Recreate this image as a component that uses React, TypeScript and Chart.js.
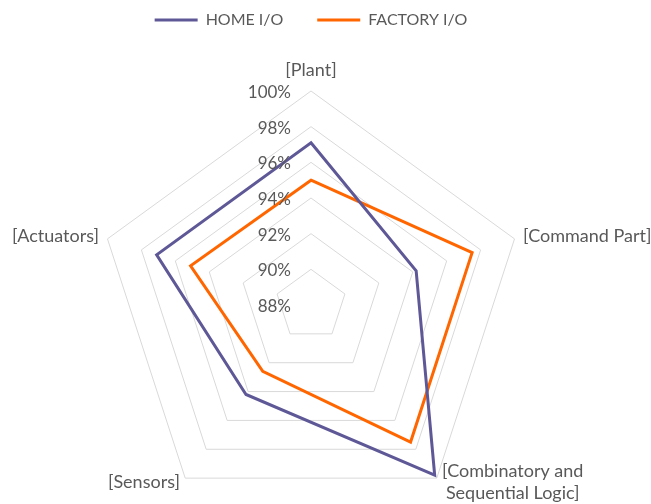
import React, { useEffect, useRef } from "react";
import { Chart, registerables } from "chart.js";

Chart.register(...registerables);

const categories: (string | string[])[] = [
  "[Plant]",
  "[Command Part]",
  ["[Combinatory and", "Sequential Logic]"],
  "[Sensors]",
  "[Actuators]",
];
const homeValues = [97.1, 94.2, 99.8, 94.2, 97.1];
const factoryValues = [95.0, 97.5, 97.5, 92.6, 95.1];
const tickValues = [88, 90, 92, 94, 96, 98, 100];

const HOME_COLOR = "#5E5897";
const FACTORY_COLOR = "#FF6600";
const TEXT_COLOR = "#595959";
const GRID_COLOR = "#D9D9D9";
const FONT = "Lato";

const labelPlugin = {
  id: "customRadarLabels",
  afterDraw(chart: any) {
    const scale = chart.scales.r;
    const ctx = chart.ctx as CanvasRenderingContext2D;
    ctx.save();
    ctx.fillStyle = TEXT_COLOR;
    // tick labels, right-aligned left of the vertical axis
    ctx.font = `17px ${FONT}`;
    ctx.textAlign = "right";
    ctx.textBaseline = "middle";
    tickValues.forEach((v) => {
      const d = scale.getDistanceFromCenterForValue(v);
      ctx.fillText(`${v}%`, scale.xCenter - 20, scale.yCenter - d + 1.5);
    });
    // point labels
    ctx.font = `18px ${FONT}`;
    categories.forEach((lab, i) => {
      const p = scale.getPointPosition(i, scale.drawingArea + 9);
      const lines = Array.isArray(lab) ? lab : [lab];
      const dx = p.x - scale.xCenter;
      const dy = p.y - scale.yCenter;
      const lineH = 22;
      const widths = lines.map((l) => ctx.measureText(l).width);
      const maxW = Math.max(...widths);
      let cx: number;
      if (Math.abs(dx) < 1) cx = p.x;
      else if (dx > 0) cx = p.x + maxW / 2;
      else cx = p.x - maxW / 2;
      let cy: number;
      if (Math.abs(dx) < 1 && dy < 0) cy = p.y - 12;
      else if (dy > 0) cy = p.y - 3;
      else cy = p.y;
      ctx.textAlign = "center";
      ctx.textBaseline = "middle";
      lines.forEach((l, k) => {
        const y = cy + (k - (lines.length - 1) / 2) * lineH;
        ctx.fillText(l, cx, y);
      });
    });
    ctx.restore();
  },
};

export default function App() {
  const canvasRef = useRef<HTMLCanvasElement | null>(null);

  useEffect(() => {
    if (!canvasRef.current) return;
    const chart = new Chart(canvasRef.current, {
      type: "radar",
      data: {
        labels: categories,
        datasets: [
          {
            label: "HOME I/O",
            data: homeValues,
            borderColor: HOME_COLOR,
            backgroundColor: "transparent",
            borderWidth: 3,
            pointRadius: 0,
            pointHoverRadius: 0,
            fill: false,
            tension: 0,
          },
          {
            label: "FACTORY I/O",
            data: factoryValues,
            borderColor: FACTORY_COLOR,
            backgroundColor: "transparent",
            borderWidth: 3,
            pointRadius: 0,
            pointHoverRadius: 0,
            fill: false,
            tension: 0,
          },
        ],
      },
      options: {
        animation: false,
        responsive: true,
        maintainAspectRatio: false,
        layout: {
          padding: { top: -22, left: 97, right: 126, bottom: 0 },
        },
        plugins: {
          legend: {
            position: "top",
            labels: {
              usePointStyle: true,
              pointStyle: "line",
              pointStyleWidth: 43,
              padding: 34,
              color: TEXT_COLOR,
              font: { family: FONT, size: 16 },
            },
          },
          tooltip: { enabled: false },
        },
        scales: {
          r: {
            min: 88,
            max: 100,
            ticks: { display: false, stepSize: 2 },
            pointLabels: { display: false },
            angleLines: { display: false },
            grid: { color: GRID_COLOR, lineWidth: 1 },
          },
        },
      },
      plugins: [labelPlugin],
    });
    return () => chart.destroy();
  }, []);

  return (
    <div
      style={{
        position: "absolute",
        left: 0,
        top: 0,
        width: 651,
        height: 504,
        overflow: "hidden",
        background: "#fff",
      }}
    >
      <div style={{ position: "relative", width: 651, height: 572 }}>
        <canvas ref={canvasRef} />
      </div>
    </div>
  );
}
